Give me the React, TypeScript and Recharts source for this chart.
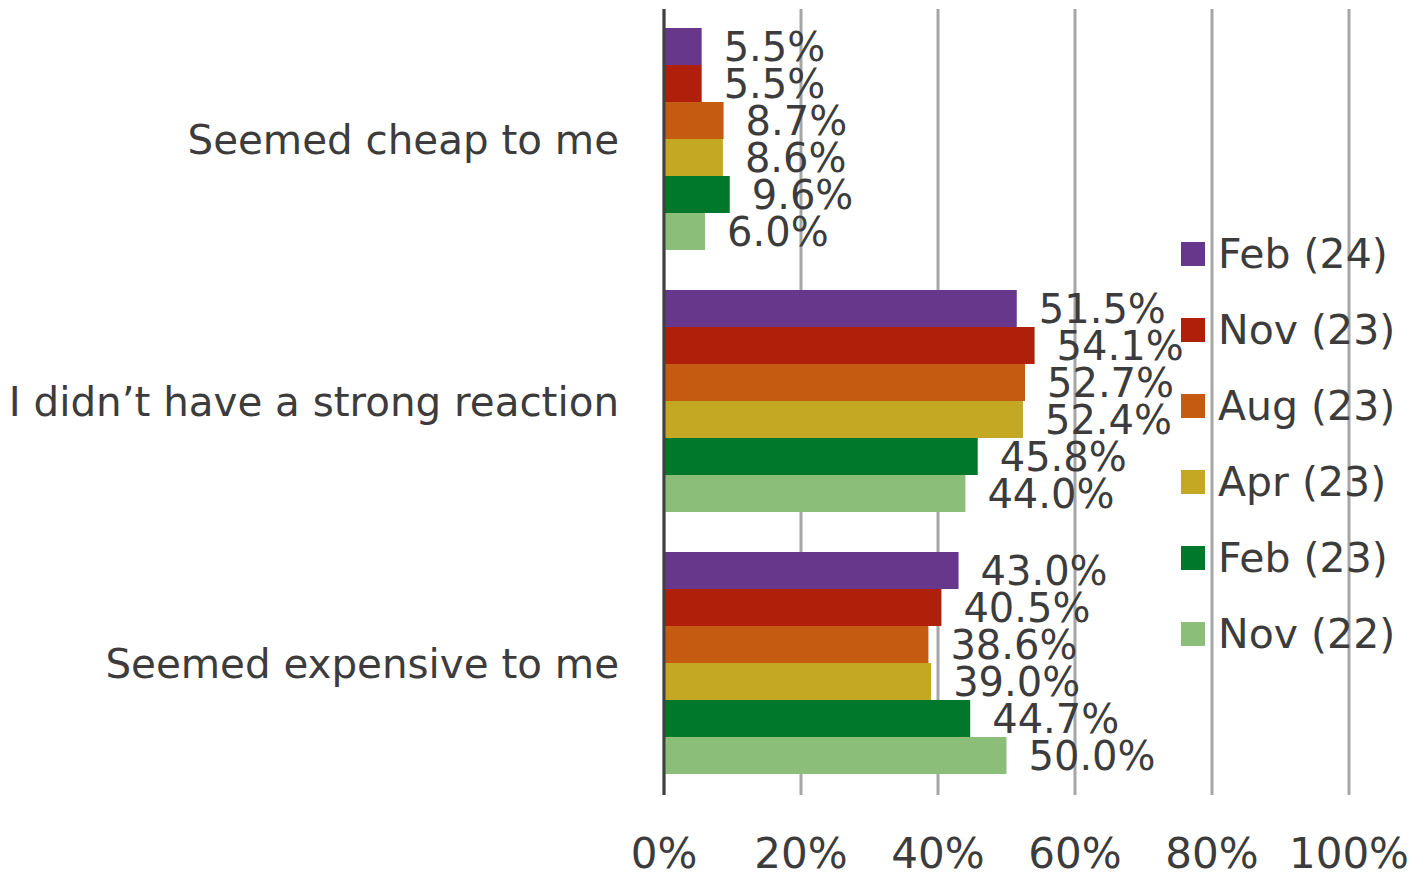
import { BarChart, Bar, XAxis, YAxis, CartesianGrid, Legend, LabelList } from 'recharts'

const categories = ['Seemed cheap to me', 'I didn’t have a strong reaction', 'Seemed expensive to me']
const seriesNames = ['Feb (24)', 'Nov (23)', 'Aug (23)', 'Apr (23)', 'Feb (23)', 'Nov (22)']
const seriesColors = ['#67378C', '#B01F09', '#C55A11', '#C4A722', '#00782B', '#8BBE78']

const feb24 = [5.5, 51.5, 43.0]
const nov23 = [5.5, 54.1, 40.5]
const aug23 = [8.7, 52.7, 38.6]
const apr23 = [8.6, 52.4, 39.0]
const feb23 = [9.6, 45.8, 44.7]
const nov22 = [6.0, 44.0, 50.0]

const xTicks = [0, 20, 40, 60, 80, 100]

const seriesValues = [feb24, nov23, aug23, apr23, feb23, nov22]

const chartData = categories.map((name, i) => {
  const row: Record<string, string | number> = { name }
  seriesNames.forEach((s, j) => {
    row[s] = seriesValues[j][i]
  })
  return row
})

const textColor = '#3C3C3C'
const font = '"DejaVu Sans", Verdana, sans-serif'

function LegendBox() {
  return (
    <div style={{ fontFamily: font, fontSize: 41, color: textColor }}>
      {seriesNames.map((s, i) => (
        <div key={s} style={{ display: 'flex', alignItems: 'center', height: 76 }}>
          <div style={{ width: 24, height: 24, background: seriesColors[i], marginRight: 13 }} />
          <span style={{ lineHeight: '76px' }}>{s}</span>
        </div>
      ))}
    </div>
  )
}

export default function App() {
  return (
    <div style={{ position: 'absolute', left: 0, top: 0, width: 1423, height: 878, background: '#fff' }}>
      <BarChart
        width={1423}
        height={878}
        data={chartData}
        layout="vertical"
        margin={{ top: 9, right: 74, left: 0, bottom: 0 }}
        barCategoryGap={19}
        barGap={0}
      >
        <CartesianGrid horizontal={false} vertical stroke="#A6A6A6" strokeWidth={3} />
        <XAxis
          type="number"
          domain={[0, 100]}
          ticks={xTicks}
          tickFormatter={(v) => `${v}%`}
          axisLine={false}
          tickLine={false}
          tickSize={0}
          tickMargin={43}
          height={83}
          tick={{ fill: textColor, fontSize: 42, fontFamily: font }}
        />
        <YAxis
          type="category"
          dataKey="name"
          width={664}
          axisLine={{ stroke: '#404040', strokeWidth: 3 }}
          tickLine={false}
          tickSize={0}
          tickMargin={45}
          tick={{ fill: textColor, fontSize: 40.4, fontFamily: font }}
        />
        <Legend
          layout="vertical"
          align="center"
          verticalAlign="middle"
          wrapperStyle={{ left: 1181, top: 216, width: 240 }}
          content={() => <LegendBox />}
        />
        {seriesNames.map((s, i) => (
          <Bar key={s} dataKey={s} fill={seriesColors[i]} isAnimationActive={false}>
            <LabelList
              dataKey={s}
              position="right"
              offset={22}
              formatter={(v: number) => `${v.toFixed(1)}%`}
              style={{ fill: textColor, fontSize: 40, fontFamily: font }}
            />
          </Bar>
        ))}
      </BarChart>
    </div>
  )
}
